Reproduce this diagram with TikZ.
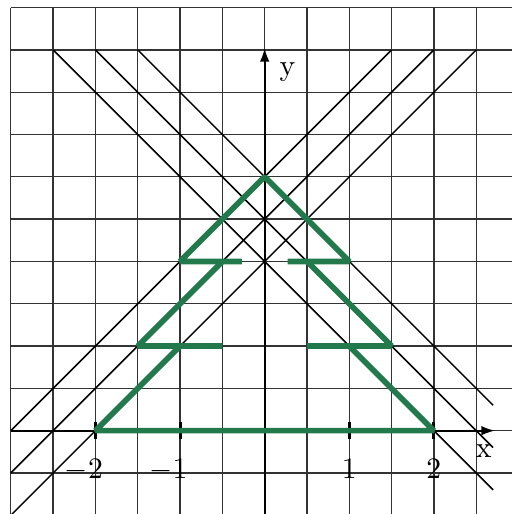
\documentclass[tikz,border=0pt]{standalone}
\usetikzlibrary{arrows.meta}
\definecolor{treegreen}{RGB}{34,122,76}
\begin{document}
\begin{tikzpicture}[x=1cm,y=1cm,
  gridline/.style={black!80,line width=0.45pt},
  diag/.style={black,line width=0.5pt},
  axis/.style={black,line width=0.6pt,-{Latex[length=4.5pt,width=3.2pt]}},
  tree/.style={treegreen,line width=1.9pt,line join=bevel},
  tickmark/.style={black,line width=1pt},
  lab/.style={inner sep=0pt,anchor=base,font=\fontsize{10}{12}\selectfont}]
\useasboundingbox (-3.128,-0.985) rectangle (2.912,5.09);
% grid
\foreach \x in {-3,-2.5,-2,-1.5,-1,-0.5,0,0.5,1,1.5,2,2.5}
  \draw[gridline] (\x,5) -- (\x,-1.1);
\foreach \y in {-0.5,0,0.5,1,1.5,2,2.5,3,3.5,4,4.5,5}
  \draw[gridline] (-3,\y) -- (3,\y);
% diagonals
\foreach \c in {2,2.5,3} {
  \draw[diag] ({\c-4.5},4.5) -- (2.7,{\c-2.7});
  \draw[diag] (-3,{\c-3}) -- ({4.5-\c},4.5);
}
% axes
\coordinate (xs) at (-3,0);
\coordinate (xe) at (2.72,0);
\coordinate (ys) at (0,-1.1);
\coordinate (ye) at (0,4.52);
\draw[axis] (xs) -- (xe);
\draw[axis] (ys) -- (ye);
\foreach \x in {-2,-1,1,2}
  \draw[tickmark] (\x,-0.1) -- (\x,0.1);
% tree
\coordinate (A) at (0,3);
\coordinate (L1) at (-1,2);
\coordinate (L1e) at (-0.27,2);
\coordinate (R1) at (1,2);
\coordinate (R1e) at (0.27,2);
\coordinate (L2s) at (-0.5,2);
\coordinate (L2) at (-1.5,1);
\coordinate (L2e) at (-0.5,1);
\coordinate (R2s) at (0.5,2);
\coordinate (R2) at (1.5,1);
\coordinate (R2e) at (0.5,1);
\coordinate (L3s) at (-1,1);
\coordinate (R3s) at (1,1);
\coordinate (B1) at (-2,0);
\coordinate (B2) at (2,0);
\draw[tree] (L1e) -- (L1) -- (A) -- (R1) -- (R1e);
\draw[tree] (L2s) -- (L2) -- (L2e);
\draw[tree] (R2s) -- (R2) -- (R2e);
\draw[tree] (L3s) -- (B1) -- (B2) -- (R3s);
% labels
\node[lab] (xl) at (2.59,-0.32) {x};
\node[lab] (yl) at (0.27,4.2) {y};
\node[lab] (tm2) at (-2,-0.56) {\llap{$-$}2};
\node[lab] (tm1) at (-1,-0.56) {\llap{$-$}1};
\node[lab] (tp1) at (1,-0.56) {1};
\node[lab] (tp2) at (2,-0.56) {2};
\end{tikzpicture}
\end{document}
